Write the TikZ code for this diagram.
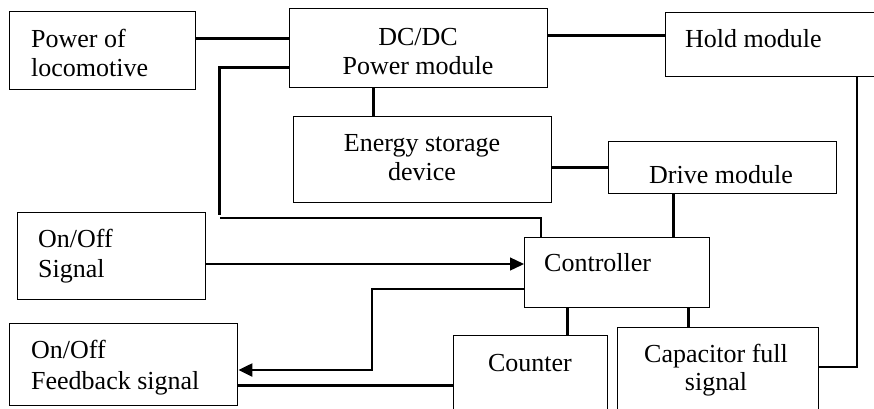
\documentclass[tikz,border=0pt]{standalone}
\usepackage{fontspec}
\setmainfont{Liberation Serif}
\usetikzlibrary{arrows.meta}
\tikzset{
  box/.style={draw, line width=1.4pt, rectangle, inner sep=0pt, anchor=north west},
  txt/.style={inner sep=0pt, font=\fontsize{26}{29}\selectfont},
  heavy/.style={line width=3pt},
  medium/.style={line width=2.2pt},
  light/.style={line width=1.3pt},
  tip/.style={-{Triangle[length=14pt,width=13pt]}}
}
\begin{document}
\begin{tikzpicture}[x=1pt,y=-1pt]
\useasboundingbox (0,0) rectangle (874,408);
\clip (0,0) rectangle (874,408);
% boxes
\node[box, minimum width=186pt, minimum height=78pt] (pow) at (9,11) {};
\node[box, minimum width=258pt, minimum height=79pt] (dc) at (289,8) {};
\node[box, minimum width=220pt, minimum height=64pt] (hold) at (665,12) {};
\node[box, minimum width=258pt, minimum height=86pt] (es) at (293,116) {};
\node[box, minimum width=228pt, minimum height=52pt] (drive) at (608,141) {};
\node[box, minimum width=185pt, minimum height=70pt] (ctrl) at (524,237) {};
\node[box, minimum width=188pt, minimum height=87pt] (onoff) at (17,212) {};
\node[box, minimum width=228pt, minimum height=82pt] (fb) at (9,323) {};
\node[box, minimum width=154pt, minimum height=85pt] (counter) at (453,335) {};
\node[box, minimum width=201pt, minimum height=95pt] (cap) at (617,327) {};
% texts
\node[txt, anchor=base west] (powa) at (31,47) {Power of};
\node[txt, anchor=base west] (powb) at (31,76) {locomotive};
\node[txt, anchor=base] (dca) at (418,45) {DC/DC};
\node[txt, anchor=base] (dcb) at (418,74) {Power module};
\node[txt, anchor=base west] (holda) at (685,47) {Hold module};
\node[txt, anchor=base] (esa) at (422,151) {Energy storage};
\node[txt, anchor=base] (esb) at (422,180) {device};
\node[txt, anchor=base] (drivea) at (721,183) {Drive module};
\node[txt, anchor=base west] (ctrla) at (544,271) {Controller};
\node[txt, anchor=base west] (onoffa) at (38,247) {On/Off};
\node[txt, anchor=base west] (onoffb) at (38,277) {Signal};
\node[txt, anchor=base west] (fba) at (31,358) {On/Off};
\node[txt, anchor=base west] (fbb) at (31,389) {Feedback signal};
\node[txt, anchor=base] (countera) at (530,371) {Counter};
\node[txt, anchor=base] (capa) at (716,362) {Capacitor full};
\node[txt, anchor=base] (capb) at (716,390) {signal};
% connectors
\draw[heavy] (pow.east |- 0,38) -- (dc.west |- 0,38);
\draw[heavy] (dc.east |- 0,35) -- (hold.west |- 0,35);
\draw[heavy] (dc.south -| 373,0) -- (es.north -| 373,0);
\draw[heavy] (es.east |- 0,167) -- (drive.west |- 0,167);
\draw[heavy] (drive.south -| 673,0) -- (ctrl.north -| 673,0);
\draw[heavy] (dc.west |- 0,67) -- (219,67) -- (219,215);
\draw[medium] (220,218) -- (541,218) -- (ctrl.north -| 541,0);
\draw[medium] (hold.south -| 857,0) -- (857,367) -- (cap.east |- 0,367);
\draw[light, tip] (onoff.east |- 0,264) -- (ctrl.west |- 0,264);
\draw[medium, tip] (ctrl.west |- 0,289) -- (372,289) -- (372,370) -- (fb.east |- 0,370);
\draw[heavy] (counter.west |- 0,385) -- (fb.east |- 0,385);
\draw[heavy] (ctrl.south -| 567,0) -- (counter.north -| 567,0);
\draw[heavy] (ctrl.south -| 688,0) -- (cap.north -| 688,0);
\end{tikzpicture}
\end{document}
